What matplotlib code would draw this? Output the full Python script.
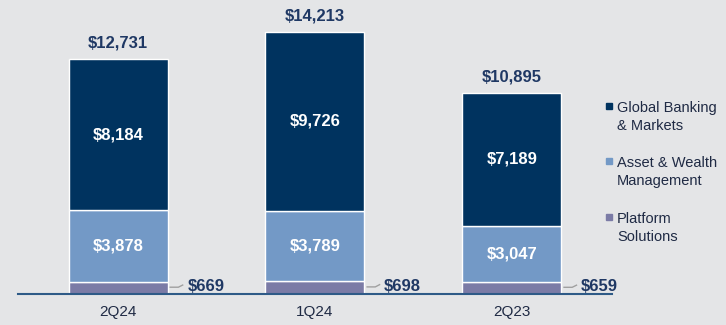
import numpy as np
import matplotlib.pyplot as plt

# Net revenues by segment ($ in millions)
quarters = ["2Q24", "1Q24", "2Q23"]
platform = [669, 698, 659]
asset_wealth = [3878, 3789, 3047]
global_banking = [8184, 9726, 7189]
totals = [12731, 14213, 10895]

segment_names = ["Global Banking\n& Markets", "Asset & Wealth\nManagement", "Platform\nSolutions"]

bg = "#E4E5E7"
c_gbm = "#00335F"
c_awm = "#7399C6"
c_ps = "#7B7BA6"
txt = "#1F3864"

plt.rcParams["font.family"] = ["Liberation Sans", "DejaVu Sans"]

fig = plt.figure(figsize=(7.26, 3.25), dpi=100, facecolor=bg)
ax = fig.add_axes([0.0248, 0.0954, 0.818, 0.9046])
ax.set_facecolor(bg)

x = np.arange(len(quarters))
w = 0.503
ps = np.array(platform)
awm = np.array(asset_wealth)
gbm = np.array(global_banking)

ax.bar(x, ps, w, color=c_ps, edgecolor="white", linewidth=1)
ax.bar(x, awm, w, bottom=ps, color=c_awm, edgecolor="white", linewidth=1)
ax.bar(x, gbm, w, bottom=ps + awm, color=c_gbm, edgecolor="white", linewidth=1)

for i in range(len(x)):
    ax.text(x[i], ps[i] + awm[i] + gbm[i] / 2, f"${gbm[i]:,}", ha="center", va="center",
            color="white", fontsize=12, fontweight="bold")
    ax.text(x[i], ps[i] + awm[i] / 2, f"${awm[i]:,}", ha="center", va="center",
            color="white", fontsize=12, fontweight="bold")
    ax.text(x[i], totals[i] + 450, f"${totals[i]:,}", ha="center", va="bottom",
            color=txt, fontsize=12, fontweight="bold")
    # small platform label with connector
    x0 = x[i] + w / 2
    ax.plot([x0 + 0.01, x0 + 0.055, x0 + 0.08], [ps[i] * 0.55, ps[i] * 0.55, ps[i] * 0.75],
            color="#A0A0A0", lw=1, solid_capstyle="butt")
    ax.text(x0 + 0.1, ps[i] * 0.6, f"${ps[i]:,}", ha="left", va="center",
            color=txt, fontsize=12, fontweight="bold")

ax.set_xlim(-0.508, 2.508)
ax.set_ylim(0, 15926)
ax.set_xticks(x)
ax.set_xticklabels(quarters, fontsize=11, color="#1F2A44")
ax.tick_params(axis="x", length=0, pad=8)
ax.set_yticks([])
for s in ["top", "right", "left"]:
    ax.spines[s].set_visible(False)
ax.spines["bottom"].set_color("#2E5A87")
ax.spines["bottom"].set_linewidth(1.5)

# legend drawn as figure text
leg_y = [117, 172, 228]
for name, col, yy in zip(segment_names, [c_gbm, c_awm, c_ps], leg_y):
    fig.patches.append(plt.Rectangle((606 / 726, 1 - (yy - 8) / 325), 6 / 726, 6 / 325,
                                     transform=fig.transFigure, color=col))
    fig.text(617 / 726, 1 - yy / 325, name, ha="left", va="center", fontsize=10.5,
             color="#1F2A44", linespacing=1.4)

fig.savefig("out.png", dpi=100, facecolor=bg)
